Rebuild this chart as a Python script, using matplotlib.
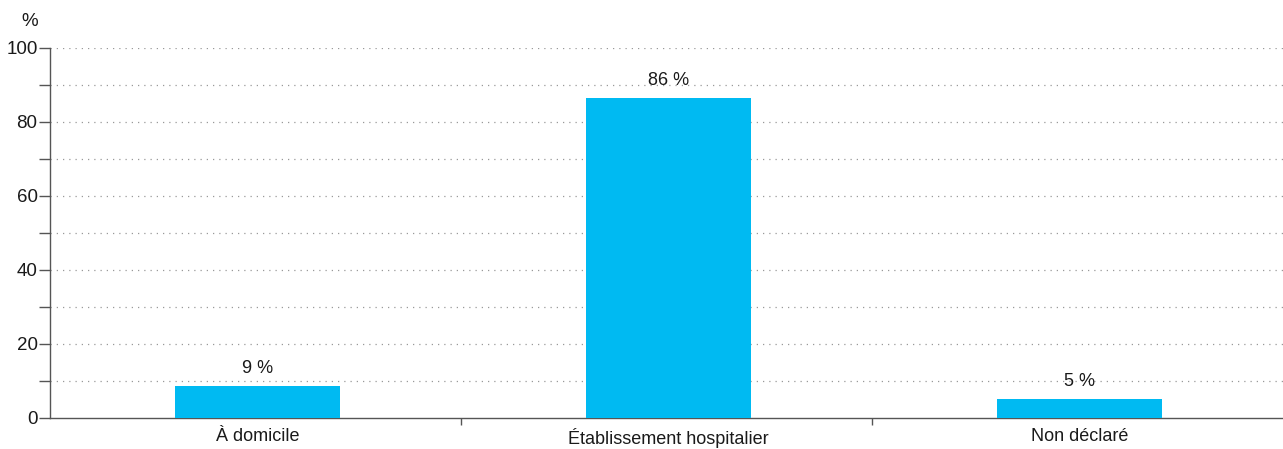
import matplotlib
matplotlib.use("Agg")
import matplotlib.pyplot as plt
import numpy as np

categories = ["À domicile", "Établissement hospitalier", "Non déclaré"]
values = [8.6, 86.5, 5.1]
labels = ["9 %", "86 %", "5 %"]

plt.rcParams['font.family'] = ['Liberation Sans', 'DejaVu Sans']

fig = plt.figure(figsize=(12.83, 4.49), dpi=100)
ax = fig.add_axes([50/1283, 1-418/449, 1-50/1283, 370/449])

x = np.arange(len(categories))
color = "#00BAF2"
FS = 13.5
TXT = "#1a1a1a"
ax.bar(x + 0.005, values, width=0.4, color=color, zorder=3)
for xi, v, lab in zip(x, values, labels):
    ax.text(xi + 0.005, v + 2.4, lab, ha="center", va="bottom", fontsize=13, color=TXT, zorder=4)

ax.set_xlim(-0.5, 2.5)
ax.set_ylim(0, 100)
ax.set_yticks(np.arange(0, 101, 20))
ax.set_yticks(np.arange(10, 100, 20), minor=True)
ax.tick_params(axis="y", which="both", direction="out", length=8, width=1, color="#555555",
               labelsize=FS, labelcolor=TXT, pad=1)
for yv in np.arange(10, 101, 10):
    ax.axhline(yv, color="#999999", linestyle=(0, (1, 4)), linewidth=0.9, zorder=1)

ax.set_xticks(x + 0.005)
ax.set_xticklabels(categories, fontsize=13, color=TXT)
ax.tick_params(axis="x", which="major", length=0, pad=7)
ax.set_xticks([0.5, 1.5], minor=True)
ax.tick_params(axis="x", which="minor", direction="out", length=5, width=1, color="#555555")

for s in ["top", "right"]:
    ax.spines[s].set_visible(False)
ax.spines["left"].set_color("#555555")
ax.spines["bottom"].set_color("#555555")
ax.spines["left"].set_linewidth(1)
ax.spines["bottom"].set_linewidth(1)

fig.text(30/1283, 1-22/449, "%", ha="center", va="center", fontsize=FS, color=TXT)

fig.savefig("out.png", dpi=100)
